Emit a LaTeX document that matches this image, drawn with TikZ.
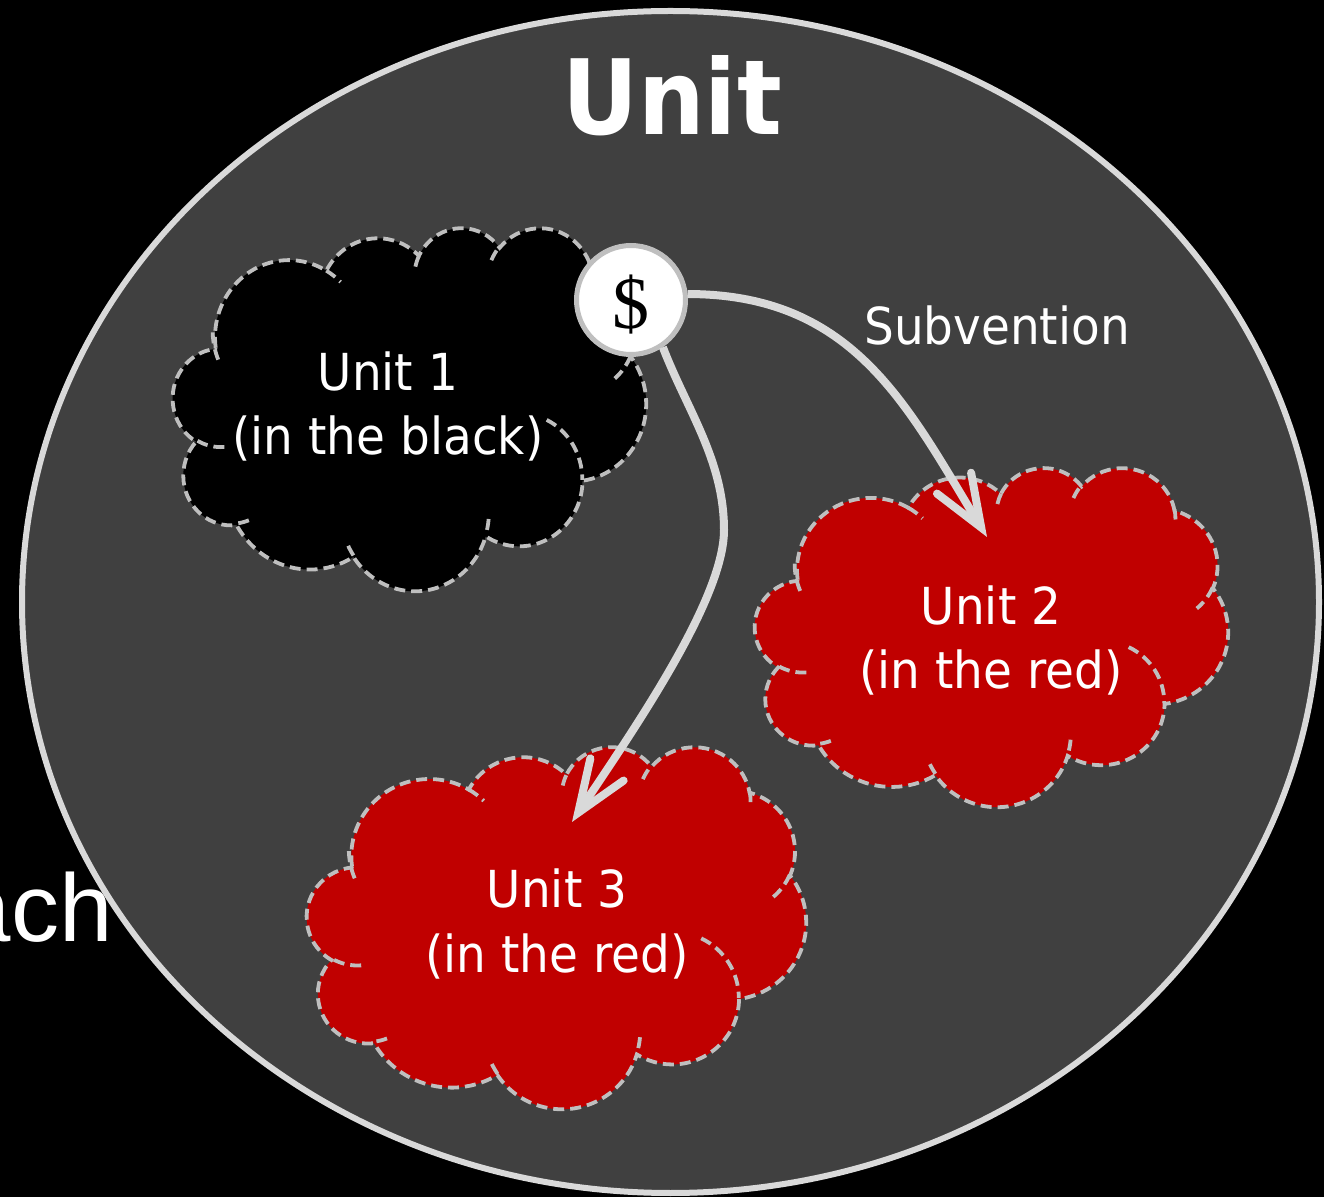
\documentclass[tikz,border=0pt]{standalone}
\usepackage{fontspec}
\usetikzlibrary{arrows.meta}
\newfontfamily\lblfont[FakeStretch=0.92]{DejaVu Sans}
\newfontfamily\ttlfont[FakeStretch=0.9]{DejaVu Sans}
\newfontfamily\dolfont{Liberation Serif}
\newfontfamily\achfont{Liberation Sans}
\definecolor{ellfill}{HTML}{404040}
\definecolor{ellline}{HTML}{D9D9D9}
\definecolor{dashgray}{HTML}{BFBFBF}
\definecolor{unitred}{HTML}{C00000}
\tikzset{
  cloudline/.style={draw=dashgray, line width=1.9pt, dash pattern=on 5.5pt off 3pt},
  lbl/.style={text=white, font=\lblfont\fontsize{25.5}{30}\selectfont, inner sep=0pt, anchor=base},
  flow/.style={draw=ellline, line width=4pt, -{Straight Barb[length=26pt, width=20pt, line cap=round, line join=miter]}},
}
% #1 name, #2 left, #3 top, #4 x-unit (pt), #5 y-unit (pt), #6 fill
\newcommand\drawcloud[6]{%
  \begin{scope}[shift={(#2,#3)}, x={(#4pt,0pt)}, y={(0pt,-#5pt)}]
    \filldraw[cloudline, fill=#6] (3.9,14.37)
      arc[start angle=-187.745, end angle=-59.636, x radius=6.753, y radius=9.19]
      arc[start angle=-152.04, end angle=-45.43, x radius=5.333, y radius=7.267]
      arc[start angle=-153.50, end angle=-37.35, x radius=4.365, y radius=5.945]
      arc[start angle=-139.70, end angle=-10.21, x radius=4.857, y radius=6.595]
      arc[start angle=-74.77, end angle=23.21, x radius=5.333, y radius=7.273]
      arc[start angle=-37.51, end angle=81.86, x radius=6.775, y radius=9.22]
      arc[start angle=0.46, end angle=121.97, x radius=5.785, y radius=7.867]
      arc[start angle=16.84, end angle=146.21, x radius=6.752, y radius=9.215]
      arc[start angle=58.99, end angle=150.20, x radius=7.72, y radius=10.543]
      arc[start angle=83.31, end angle=223.11, x radius=4.36, y radius=5.918]
      arc[start angle=120.35, end angle=264.11, x radius=4.345, y radius=5.945]
      -- cycle;
    \draw[cloudline]
      (4.693,26.177) arc[start angle=85.55, end angle=120.35, x radius=4.345, y radius=5.945]
      (6.928,34.899) arc[start angle=68.24, end angle=83.31, x radius=4.36, y radius=5.918]
      (16.478,39.09) arc[start angle=146.21, end angle=158.47, x radius=6.752, y radius=9.215]
      (28.827,34.751) arc[start angle=4.74, end angle=16.84, x radius=6.752, y radius=9.215]
      (34.129,22.954) arc[start angle=-64.03, end angle=0.46, x radius=5.785, y radius=7.867]
      (41.798,15.354) arc[start angle=23.21, end angle=49.65, x radius=5.333, y radius=7.273]
      (38.324,5.426) arc[start angle=-10.21, end angle=0.83, x radius=4.857, y radius=6.595]
      (29.078,3.952) arc[start angle=-156.29, end angle=-139.70, x radius=4.857, y radius=6.595]
      (22.141,4.72) arc[start angle=-167.73, end angle=-153.50, x radius=4.365, y radius=5.945]
      (14.0,5.192) arc[start angle=-59.636, end angle=-45.70, x radius=6.753, y radius=9.19]
      (4.127,15.789) arc[start angle=157.67, end angle=180.905, x radius=6.753, y radius=9.19];
    \coordinate (#1) at (21.6,21.6);
  \end{scope}}
\begin{document}
\begin{tikzpicture}[x=0.5pt, y=-0.5pt]
  \useasboundingbox (0,0) rectangle (1324,1197);
  \fill[black] (0,0) rectangle (1324,1197);
  \node[anchor=base east, inner sep=0pt, text=white, font=\achfont\fontsize{48}{56}\selectfont] (ach) at (113,942) {ach};
  \filldraw[fill=ellfill, draw=ellline, line width=3pt] (670.5,602) ellipse [x radius=648.5, y radius=591];
  \node[anchor=base, inner sep=0pt, text=white, font=\ttlfont\bfseries\fontsize{52}{60}\selectfont] (title) at (672,135) {Unit};
  \drawcloud{c1}{173}{227}{5.4745}{4.2014}{black}
  \drawcloud{c2}{755}{467}{5.4745}{3.9236}{unitred}
  \drawcloud{c3}{307}{746}{5.7755}{4.1898}{unitred}
  \node[lbl] (u1a) at (388,391) {Unit 1};
  \node[lbl] (u1b) at (388,455) {(in the black)};
  \node[lbl] (u2a) at (991,625) {Unit 2};
  \node[lbl] (u2b) at (991,689) {(in the red)};
  \node[lbl] (u3a) at (557,907) {Unit 3};
  \node[lbl] (u3b) at (557,972) {(in the red)};
  \node[circle, draw=dashgray, line width=2.5pt, fill=white, minimum size=54.5pt, inner sep=0pt] (dollar) at (631,300) {};
  \node[inner sep=0pt, font=\dolfont\fontsize{37}{40}\selectfont] (dsign) at (631,305) {\$};
  \coordinate (t1) at (987,537);
  \coordinate (m2) at (724,530);
  \coordinate (t2) at (572,822);
  \draw[flow] (dollar.6) .. controls (855,294) and (908,408) .. (t1);
  \draw[flow] (dollar.-56) .. controls (687,410) and (724,460) .. (m2) .. controls (724,600) and (632,732) .. (t2);
  \node[text=white, inner sep=0pt, anchor=base, font=\lblfont\fontsize{25.5}{30}\selectfont] (subv) at (997,345) {Subvention};
\end{tikzpicture}
\end{document}
